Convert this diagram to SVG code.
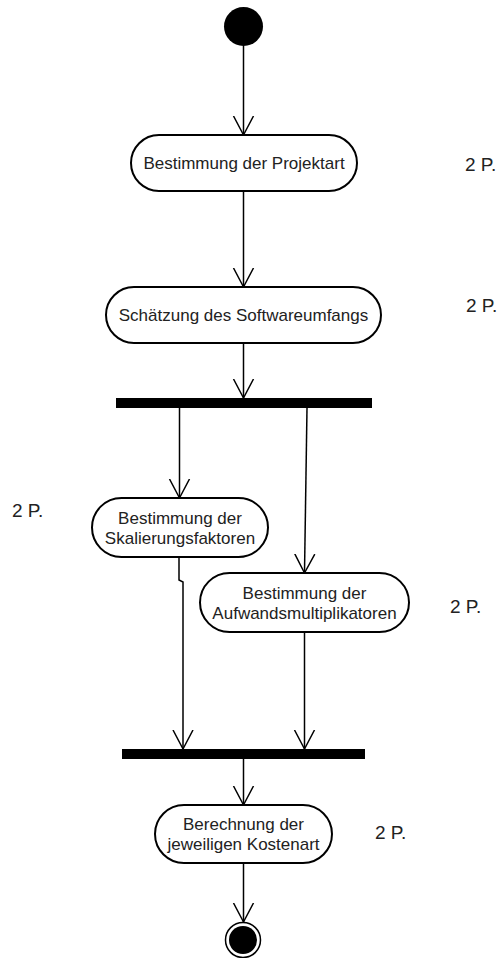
<svg xmlns="http://www.w3.org/2000/svg" width="504" height="958" viewBox="0 0 504 958">
<style>
.node{fill:#fff;stroke:#000;stroke-width:2}
.lbl{font-family:"Liberation Sans",Arial,sans-serif;font-size:17px;fill:#222;text-anchor:middle}
.pts{font-family:"Liberation Sans",Arial,sans-serif;font-size:19px;fill:#222}
.edge{fill:none;stroke:#000;stroke-width:1.5}
.bar{fill:#000}
</style>
<defs>
<marker id="arr" markerWidth="24" markerHeight="24" refX="19" refY="11" orient="auto" markerUnits="userSpaceOnUse">
<path d="M0,1 L19,11 L0,21" fill="none" stroke="#000" stroke-width="1.5"/>
</marker>
</defs>
<rect width="504" height="958" fill="#fff"/>
<g id="connectors">
<path class="edge" d="M243.5,46 L243.5,135" marker-end="url(#arr)"/>
<path class="edge" d="M243.5,191 L243.5,287" marker-end="url(#arr)"/>
<path class="edge" d="M243.5,343 L243.5,398" marker-end="url(#arr)"/>
<path class="edge" d="M179.5,408 L179.5,498" marker-end="url(#arr)"/>
<path class="edge" d="M307,408 L304.5,573" marker-end="url(#arr)"/>
<path class="edge" d="M179,557 L179,580 L183,582 L183,749" marker-end="url(#arr)"/>
<path class="edge" d="M304.5,632 L304.5,749" marker-end="url(#arr)"/>
<path class="edge" d="M243.5,759 L243.5,805" marker-end="url(#arr)"/>
<path class="edge" d="M243.5,863 L243.5,922" marker-end="url(#arr)"/>
</g>
<g id="start"><circle cx="243.5" cy="26.5" r="19.5" fill="#000"/></g>
<g id="n1">
<rect class="node" x="131" y="135" width="226" height="56" rx="28" ry="28"/>
<text class="lbl" x="244" y="169">Bestimmung der Projektart</text>
</g>
<g id="p1"><text class="pts" x="465" y="171">2 P.</text></g>
<g id="n2">
<rect class="node" x="106" y="287" width="275" height="56" rx="28" ry="28"/>
<text class="lbl" x="243.5" y="321">Schätzung des Softwareumfangs</text>
</g>
<g id="p2"><text class="pts" x="466" y="312">2 P.</text></g>
<g id="fork"><rect class="bar" x="116" y="398" width="256" height="10"/></g>
<g id="n3">
<rect class="node" x="92" y="498" width="176" height="59" rx="29.5" ry="29.5"/>
<text class="lbl" x="180" y="523.5">Bestimmung der</text>
<text class="lbl" x="180" y="543.5">Skalierungsfaktoren</text>
</g>
<g id="p3"><text class="pts" x="12" y="517">2 P.</text></g>
<g id="n4">
<rect class="node" x="200" y="573" width="209" height="59" rx="29.5" ry="29.5"/>
<text class="lbl" x="304.5" y="598.5">Bestimmung der</text>
<text class="lbl" x="304.5" y="618.5">Aufwandsmultiplikatoren</text>
</g>
<g id="p4"><text class="pts" x="450" y="613">2 P.</text></g>
<g id="join"><rect class="bar" x="122" y="749" width="243" height="10"/></g>
<g id="n5">
<rect class="node" x="155" y="805" width="177" height="58" rx="29" ry="29"/>
<text class="lbl" x="243.5" y="830">Berechnung der</text>
<text class="lbl" x="243.5" y="850">jeweiligen Kostenart</text>
</g>
<g id="p5"><text class="pts" x="375" y="839">2 P.</text></g>
<g id="end">
<circle cx="243" cy="940" r="17.5" fill="#fff" stroke="#000" stroke-width="1.5"/>
<circle cx="243" cy="940" r="14" fill="#000"/>
</g>
</svg>
